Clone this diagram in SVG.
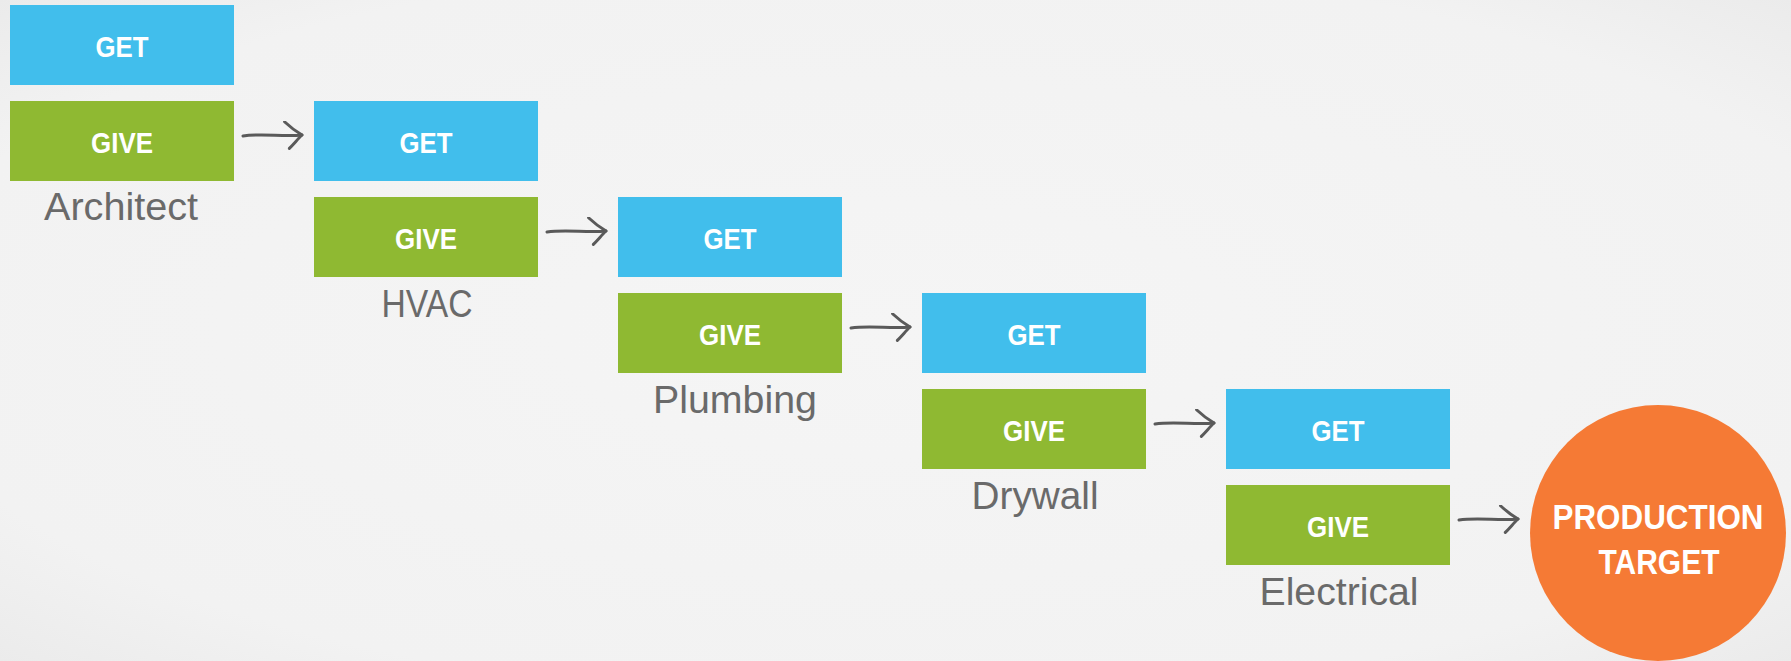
<svg xmlns="http://www.w3.org/2000/svg" width="1791" height="661" viewBox="0 0 1791 661">
  <defs>
    <style>
      .get { fill: #41BEEC; }
      .give { fill: #8FB932; }
      .target { fill: #F57A35; }
      .tag { font-family: "Liberation Sans", Arial, sans-serif; font-weight: bold; font-size: 30px; fill: #FFFFFF; text-anchor: middle; }
      .big { font-size: 35px; }
      .label { font-family: "Liberation Sans", Arial, sans-serif; font-size: 38px; fill: #6A6A6A; text-anchor: middle; }
      .arrow { fill: none; stroke: #5A5A5A; stroke-width: 3; stroke-linecap: round; stroke-linejoin: round; }
    </style>
    <radialGradient id="paper" cx="50%" cy="50%" r="75%">
      <stop offset="0" stop-color="#F5F5F5"/>
      <stop offset="0.75" stop-color="#F2F2F2"/>
      <stop offset="1" stop-color="#E9E9E9"/>
    </radialGradient>
    <marker id="head" markerUnits="userSpaceOnUse" viewBox="-20 -16 24 32" refX="0" refY="0" markerWidth="24" markerHeight="32" orient="auto">
      <path d="M-16,-15 C-10,-8 -4,-3 0,0 C-4,3 -9,8 -14,12" fill="none" stroke="#5A5A5A" stroke-width="3" stroke-linecap="round" stroke-linejoin="round"/>
    </marker>
  </defs>

  <!-- background -->
  <rect x="0" y="0" width="1791" height="661" fill="url(#paper)"/>

  <!-- hand-off arrows between trades -->
  <g id="connectors">
    <path class="arrow" marker-end="url(#head)" d="M243,136 C262,133 283,137 302,135"/>
    <path class="arrow" marker-end="url(#head)" d="M547,232 C566,229 587,233 606,231"/>
    <path class="arrow" marker-end="url(#head)" d="M851,328 C870,325 891,329 910,327"/>
    <path class="arrow" marker-end="url(#head)" d="M1155,424 C1174,421 1195,425 1214,423"/>
    <path class="arrow" marker-end="url(#head)" d="M1459,520 C1478,517 1499,521 1518,519"/>
  </g>

  <g id="architect">
    <rect class="get" x="10" y="5" width="224" height="80"/>
    <text class="tag" x="122" y="57" textLength="53" lengthAdjust="spacingAndGlyphs">GET</text>
    <rect class="give" x="10" y="101" width="224" height="80"/>
    <text class="tag" x="122" y="153" textLength="62" lengthAdjust="spacingAndGlyphs">GIVE</text>
    <text class="label" x="121" y="220" textLength="154" lengthAdjust="spacingAndGlyphs">Architect</text>
  </g>

  <g id="hvac">
    <rect class="get" x="314" y="101" width="224" height="80"/>
    <text class="tag" x="426" y="153" textLength="53" lengthAdjust="spacingAndGlyphs">GET</text>
    <rect class="give" x="314" y="197" width="224" height="80"/>
    <text class="tag" x="426" y="249" textLength="62" lengthAdjust="spacingAndGlyphs">GIVE</text>
    <text class="label" x="427" y="317" textLength="91" lengthAdjust="spacingAndGlyphs">HVAC</text>
  </g>

  <g id="plumbing">
    <rect class="get" x="618" y="197" width="224" height="80"/>
    <text class="tag" x="730" y="249" textLength="53" lengthAdjust="spacingAndGlyphs">GET</text>
    <rect class="give" x="618" y="293" width="224" height="80"/>
    <text class="tag" x="730" y="345" textLength="62" lengthAdjust="spacingAndGlyphs">GIVE</text>
    <text class="label" x="735" y="413" textLength="164" lengthAdjust="spacingAndGlyphs">Plumbing</text>
  </g>

  <g id="drywall">
    <rect class="get" x="922" y="293" width="224" height="80"/>
    <text class="tag" x="1034" y="345" textLength="53" lengthAdjust="spacingAndGlyphs">GET</text>
    <rect class="give" x="922" y="389" width="224" height="80"/>
    <text class="tag" x="1034" y="441" textLength="62" lengthAdjust="spacingAndGlyphs">GIVE</text>
    <text class="label" x="1035" y="509" textLength="127" lengthAdjust="spacingAndGlyphs">Drywall</text>
  </g>

  <g id="electrical">
    <rect class="get" x="1226" y="389" width="224" height="80"/>
    <text class="tag" x="1338" y="441" textLength="53" lengthAdjust="spacingAndGlyphs">GET</text>
    <rect class="give" x="1226" y="485" width="224" height="80"/>
    <text class="tag" x="1338" y="537" textLength="62" lengthAdjust="spacingAndGlyphs">GIVE</text>
    <text class="label" x="1339" y="605" textLength="159" lengthAdjust="spacingAndGlyphs">Electrical</text>
  </g>

  <g id="production-target">
    <circle class="target" cx="1658" cy="533" r="128"/>
    <text class="tag big" x="1658" y="529" textLength="211" lengthAdjust="spacingAndGlyphs">PRODUCTION</text>
    <text class="tag big" x="1659" y="574" textLength="121" lengthAdjust="spacingAndGlyphs">TARGET</text>
  </g>
</svg>
